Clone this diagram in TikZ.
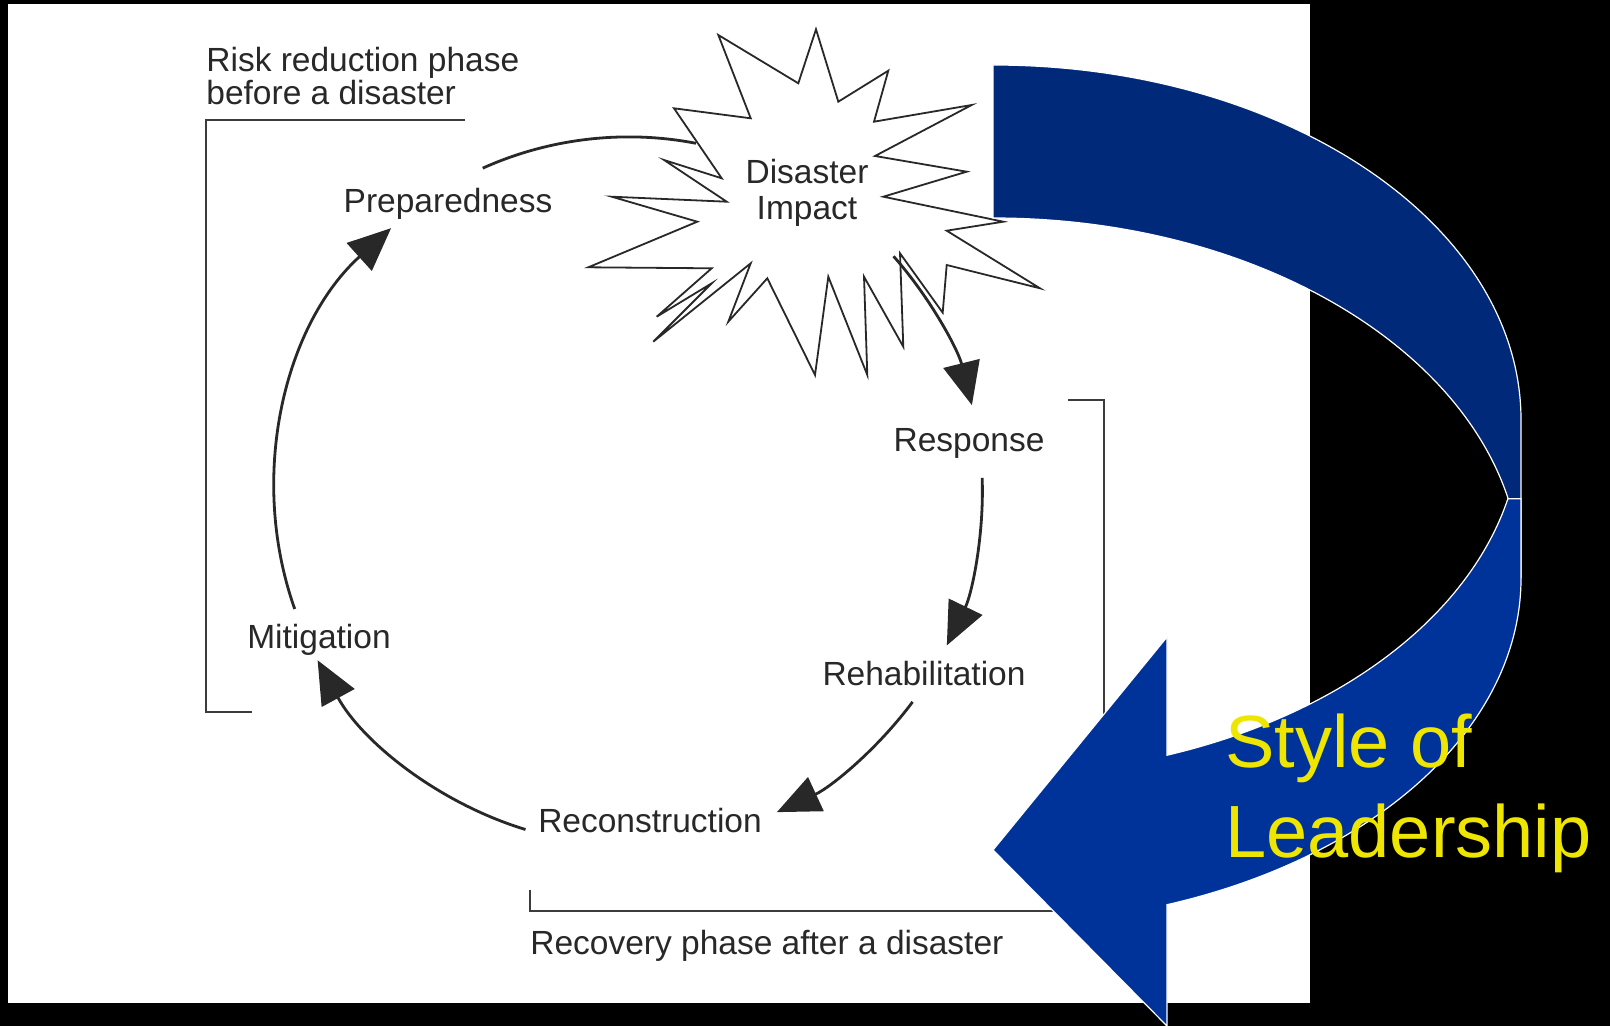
\documentclass[tikz,border=0pt]{standalone}
\usepackage{fontspec}
\setmainfont{Liberation Sans}
\usepackage{tikz}
\usetikzlibrary{arrows.meta}
\definecolor{InkGray}{RGB}{40, 40, 40}
\definecolor{RuleGray}{RGB}{60, 60, 60}
\definecolor{RibbonNavy}{RGB}{0, 41, 122}
\definecolor{RibbonBlue}{RGB}{0, 51, 153}
\definecolor{LeadYellow}{RGB}{238, 230, 0}

\begin{document}
\begin{tikzpicture}[
    x=0.5pt, y=0.5pt,
    lbl/.style={font=\fontsize{16.75}{16.5}\selectfont, text=InkGray, inner sep=0pt},
    cyc/.style={-{Triangle[length=21.5pt, width=18.5pt]}, line width=1.4pt, draw=InkGray},
    brk/.style={line width=1pt, draw=RuleGray},
    burst/.style={draw=InkGray, line width=0.9pt, fill=white, line join=miter},
    ribbon/.style={draw=white, line width=0.6pt}
]
    % Fond
    \useasboundingbox (0,0) rectangle (1610,-1026);
    \fill[black] (0,0) rectangle (1610,-1026);
    \fill[white] (8,-4) rectangle (1310,-1003);

    % Phases (crochets)
    \draw[brk] (465,-120) -- (206,-120) -- (206,-712) -- (252,-712);
    \draw[brk] (1068,-400) -- (1104,-400) -- (1104,-911) -- (530,-911) -- (530,-890);
    \node[lbl, anchor=base west, align=left] (riskTxt) at (206,-105) {Risk reduction phase\\before a disaster};
    \node[lbl, anchor=base west] (recovTxt) at (530,-954) {Recovery phase after a disaster};

    % Etapes du cycle
    \node[lbl, anchor=base] (prep) at (448,-213) {Preparedness};
    \node[lbl, anchor=base] (resp) at (969,-451) {Response};
    \node[lbl, anchor=base] (rehab) at (924,-685) {Rehabilitation};
    \node[lbl, anchor=base] (recon) at (650,-832) {Reconstruction};
    \node[lbl, anchor=base] (mitig) at (319,-648) {Mitigation};

    % Points du cercle
    \coordinate (ctr) at (628.4,-490.8);
    \def\R{354}
    \coordinate (prep-out) at ([shift={(ctr)}]114.3:\R);
    \coordinate (dis-in) at ([shift={(ctr)}]79:\R);
    \coordinate (dis-out) at ([shift={(ctr)}]41.5:\R);
    \coordinate (resp-in) at ([shift={(ctr)}]14:\R);
    \coordinate (resp-out) at ([shift={(ctr)}]2.1:\R);
    \coordinate (rehab-in) at ([shift={(ctr)}]-25.9:\R);
    \coordinate (rehab-out) at ([shift={(ctr)}]-36.6:\R);
    \coordinate (recon-in) at ([shift={(ctr)}]-65.2:\R);
    \coordinate (recon-out) at ([shift={(ctr)}]-106.9:\R);
    \coordinate (mit-in) at ([shift={(ctr)}]-151.4:\R);
    \coordinate (mit-out) at ([shift={(ctr)}]199.5:\R);
    \coordinate (prep-in) at ([shift={(ctr)}]132.1:\R);

    \draw[cyc, -] (prep-out) to[bend left=17.6, looseness=0.87] (dis-in);

    % Explosion
    \draw[burst] (718.3,-35) -- (798.3,-83.3) -- (816,-29.3) -- (838.3,-101.7)
        -- (888.3,-70.7) -- (874,-121.7) -- (971.7,-105) -- (875,-156)
        -- (966.7,-171.7) -- (883.3,-196.7) -- (1003.3,-221.7) -- (946.7,-230.7)
        -- (1040,-288.3) -- (946.7,-265) -- (942.7,-312.7) -- (900,-253.3)
        -- (903.3,-346.7) -- (864,-276.7) -- (867.3,-375) -- (828.3,-276.7)
        -- (815,-375) -- (767.3,-278.3) -- (728.3,-321.7) -- (750.7,-263.3)
        -- (653.3,-341.7) -- (711.7,-283.3) -- (656.7,-316.7) -- (711.7,-268.3)
        -- (588.3,-267.3) -- (697.3,-221.7) -- (611.7,-196.7) -- (726.7,-201.7)
        -- (664,-160) -- (721.7,-178.3) -- (674,-108.3) -- (750.7,-118.3) -- cycle;
    \node[lbl, anchor=base, align=center, font=\fontsize{16.75}{18}\selectfont] (impact) at (807,-220) {Disaster\\Impact};

    % Fleches du cycle
    \draw[cyc] (dis-out) to[bend left=13.75, looseness=0.86] (resp-in);
    \draw[cyc] (resp-out) to[bend left=14, looseness=0.86] (rehab-in);
    \draw[cyc] (rehab-out) to[bend left=14.3, looseness=0.87] (recon-in);
    \draw[cyc] (recon-out) to[bend left=22.25, looseness=0.88] (mit-in);
    \draw[cyc] (mit-out) to[bend left=33.7, looseness=0.93] (prep-in);

    % Ruban bleu
    \filldraw[ribbon, fill=RibbonNavy] (993,-65) arc[start angle=90, end angle=0, x radius=528, y radius=355]
        -- (1521,-578) arc[start angle=0, end angle=90, x radius=528, y radius=360] -- cycle;
    \filldraw[ribbon, fill=RibbonBlue] (1507.9,-498.7) arc[start angle=-12.8, end angle=-70.76, x radius=528, y radius=355]
        -- (1167,-637) -- (993,-850) -- (1167,-1026) -- (1167,-904.7)
        arc[start angle=-70.76, end angle=0, x radius=528, y radius=346] -- (1521,-498.7) -- cycle;
    \node[anchor=base west, align=left, text=LeadYellow, inner sep=0pt, font=\fontsize{37}{45}\selectfont] (lead) at (1225,-857) {Style of\\Leadership};
\end{tikzpicture}
\end{document}
